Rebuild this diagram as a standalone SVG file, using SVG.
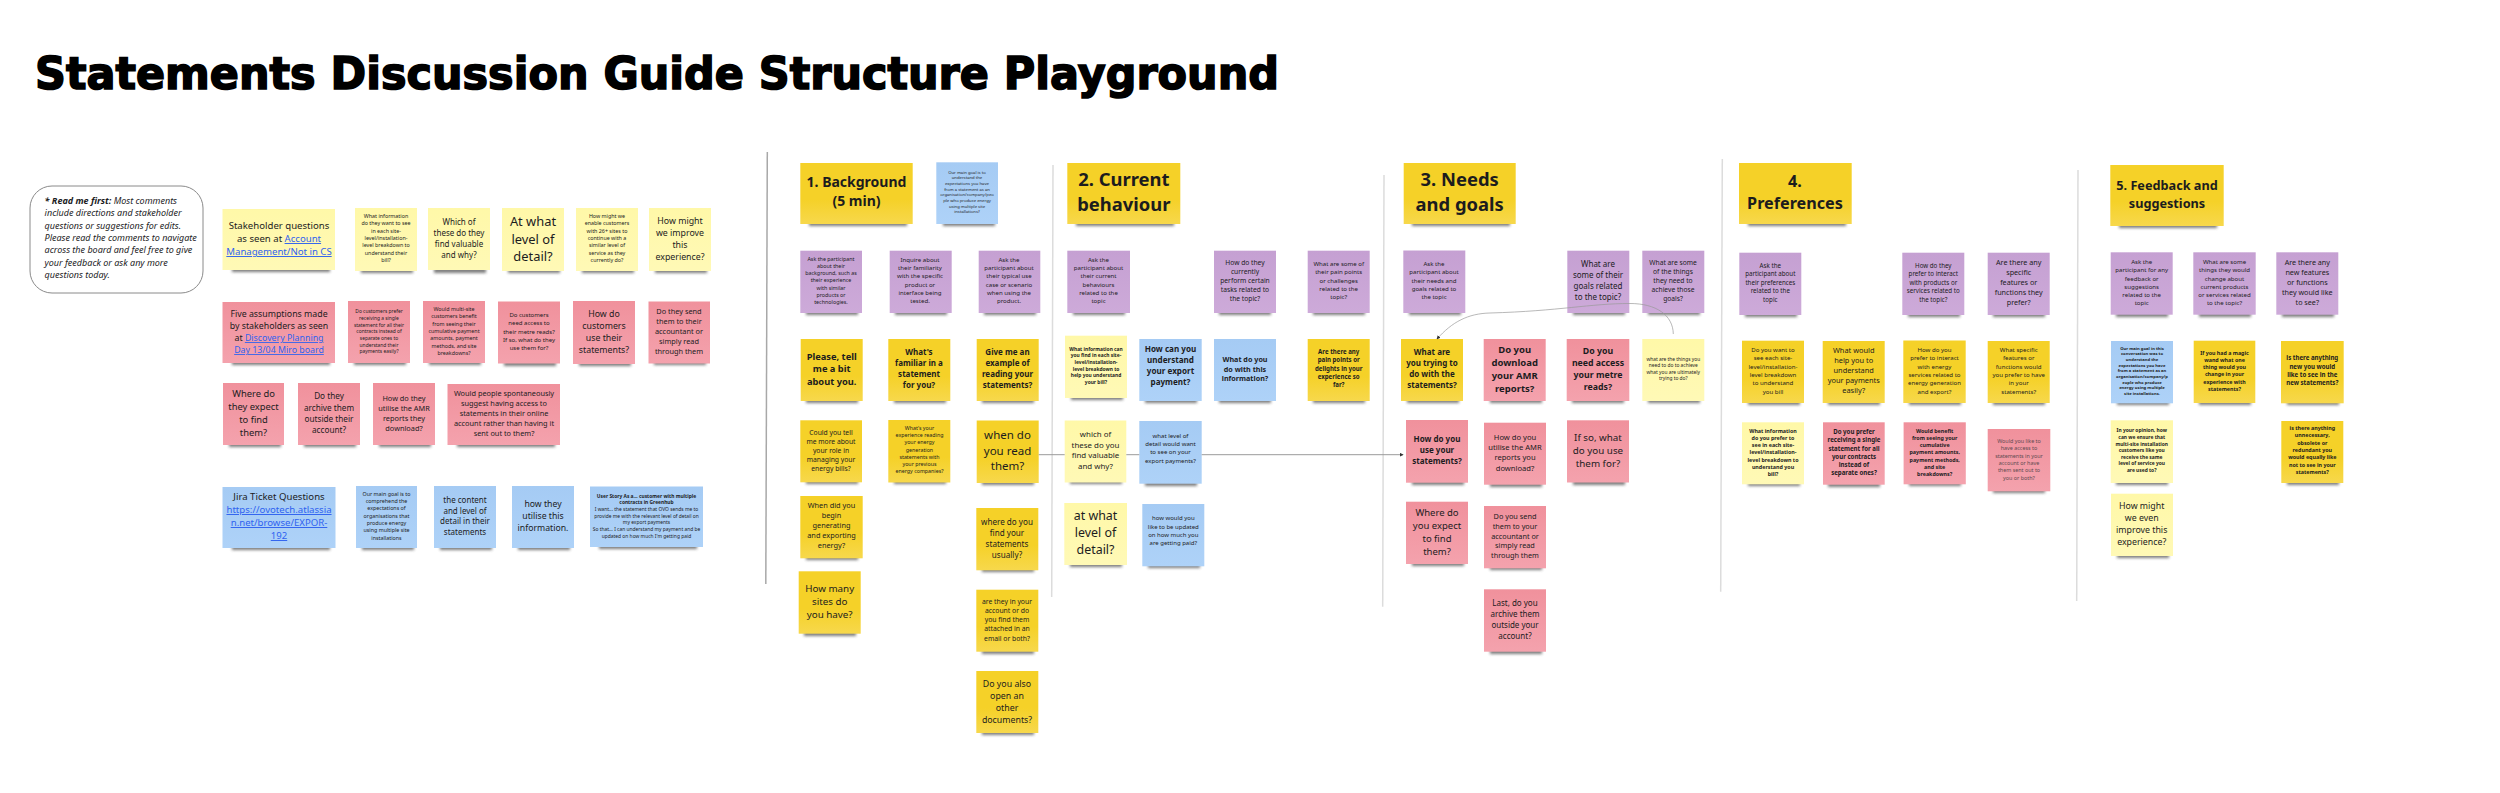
<svg xmlns="http://www.w3.org/2000/svg" width="2500" height="793" viewBox="0 0 2500 793">
<style>
text{font-family:"Noto Sans","Open Sans","Liberation Sans",sans-serif;fill:#1c1c1e;text-anchor:middle}
.b{font-weight:700}
.title{font-family:"DejaVu Sans",sans-serif;font-weight:700;font-size:44px;text-anchor:start;fill:#000;stroke:#000;stroke-width:1.6px}
.sh{fill:#4a4a4a;opacity:.72;filter:url(#blur)}
.y .bg{fill:url(#gy)}.l .bg{fill:url(#gl)}.r .bg{fill:url(#gr)}.p .bg{fill:url(#gp)}.u .bg{fill:url(#gu)}
.lk{fill:#2f62f0;text-decoration:underline}
.div{fill:none;stroke-linecap:butt}
.conn{fill:none;stroke:#9a9a9a}
.pale{fill:#5f4a50}
</style>
<defs>
<filter id="blur" x="-10%" y="-150%" width="120%" height="400%"><feGaussianBlur stdDeviation="1.6"/></filter>
<linearGradient id="gy" x1="0" y1="0" x2="0" y2="1"><stop offset="0" stop-color="#F5D128"/><stop offset=".6" stop-color="#F5D128"/><stop offset="1" stop-color="#F7D84C"/></linearGradient>
<linearGradient id="gl" x1="0" y1="0" x2="0" y2="1"><stop offset="0" stop-color="#FFF8A8"/><stop offset="1" stop-color="#FFF9B6"/></linearGradient>
<linearGradient id="gr" x1="0" y1="0" x2="0" y2="1"><stop offset="0" stop-color="#F0919C"/><stop offset="1" stop-color="#F4A2AD"/></linearGradient>
<linearGradient id="gp" x1="0" y1="0" x2="0" y2="1"><stop offset="0" stop-color="#C5A0D2"/><stop offset="1" stop-color="#CDAAD9"/></linearGradient>
<linearGradient id="gu" x1="0" y1="0" x2="0" y2="1"><stop offset="0" stop-color="#A5CBF4"/><stop offset="1" stop-color="#AED2F8"/></linearGradient>
<marker id="ah" viewBox="0 0 6 6" refX="5" refY="3" markerWidth="4" markerHeight="4" markerUnits="userSpaceOnUse" orient="auto"><path d="M0 0L6 3L0 6z" fill="#333"/></marker>
</defs>
<text class="title" x="35" y="89" textLength="1244" lengthAdjust="spacingAndGlyphs">Statements Discussion Guide Structure Playground</text>
<g id="dividers" class="div">
<path d="M767.3 152L765.8 584" stroke="#a8a8a8" stroke-width="1.5"/>
<path d="M1053 165L1051.7 597" stroke="#dcdcdc" stroke-width="1.5"/>
<path d="M1384 175L1382.7 606.7" stroke="#dcdcdc" stroke-width="1.5"/>
<path d="M1722.3 159L1720.7 591.7" stroke="#dcdcdc" stroke-width="1.5"/>
<path d="M2078 170L2076.7 601" stroke="#dcdcdc" stroke-width="1.5"/>
</g>
<g id="readme"><rect x="30" y="186" width="173" height="107" rx="22" fill="#fff" stroke="#8a8a8a" stroke-width="1"/>
<text font-size="9" font-style="italic" y="204" style="text-anchor:start"><tspan x="44.6"><tspan class="b">* Read me first:</tspan> Most comments</tspan><tspan x="44.6" dy="12.3">include directions and stakeholder</tspan><tspan x="44.6" dy="12.3">questions or suggestions for edits.</tspan><tspan x="44.6" dy="12.3">Please read the comments to navigate</tspan><tspan x="44.6" dy="12.3">across the board and feel free to give</tspan><tspan x="44.6" dy="12.3">your feedback or ask any more</tspan><tspan x="44.6" dy="12.3">questions today.</tspan></text></g>

<g id="s1" class="note l"><rect class="sh" x="232" y="267" width="98" height="5"/><rect class="bg" x="222.5" y="209" width="112.5" height="61"/><text font-size="9.6" y="229"><tspan x="279">Stakeholder questions</tspan><tspan x="279" dy="13">as seen at <tspan class="lk">Account</tspan></tspan><tspan x="279" dy="13" class="lk">Management/Not in CS</tspan></text></g>
<g id="s2" class="note l"><rect class="sh" x="361" y="268" width="52" height="5"/><rect class="bg" x="355" y="208" width="62" height="63"/><text font-size="5.35" y="218"><tspan x="386">What information</tspan><tspan x="386" dy="7.3">do they want to see</tspan><tspan x="386" dy="7.3">in each site-</tspan><tspan x="386" dy="7.3">level/installation-</tspan><tspan x="386" dy="7.3">level breakdown to</tspan><tspan x="386" dy="7.3">understand their</tspan><tspan x="386" dy="7.3">bill?</tspan></text></g>
<g id="s3" class="note l"><rect class="sh" x="434" y="268" width="52" height="5"/><rect class="bg" x="428" y="208" width="62" height="62"/><text font-size="8" y="225"><tspan x="459">Which of</tspan><tspan x="459" dy="10.9">these do they</tspan><tspan x="459" dy="10.9">find valuable</tspan><tspan x="459" dy="10.9">and why?</tspan></text></g>
<g id="s4" class="note l"><rect class="sh" x="508" y="268" width="52" height="5"/><rect class="bg" x="502" y="208" width="62" height="63"/><text font-size="12.9" y="226"><tspan x="533">At what</tspan><tspan x="533" dy="17.5">level of</tspan><tspan x="533" dy="17.5">detail?</tspan></text></g>
<g id="s5" class="note l"><rect class="sh" x="582" y="268" width="52" height="5"/><rect class="bg" x="576" y="208" width="62" height="63"/><text font-size="5.35" y="218"><tspan x="607">How might we</tspan><tspan x="607" dy="7.3">enable customers</tspan><tspan x="607" dy="7.3">with 26+ sites to</tspan><tspan x="607" dy="7.3">continue with a</tspan><tspan x="607" dy="7.3">similar level of</tspan><tspan x="607" dy="7.3">service as they</tspan><tspan x="607" dy="7.3">currently do?</tspan></text></g>
<g id="s6" class="note l"><rect class="sh" x="655" y="268" width="52" height="5"/><rect class="bg" x="649" y="208" width="62" height="63"/><text font-size="8.8" y="223.6"><tspan x="680">How might</tspan><tspan x="680" dy="12">we improve</tspan><tspan x="680" dy="12">this</tspan><tspan x="680" dy="12">experience?</tspan></text></g>

<g id="a1" class="note r"><rect class="sh" x="232" y="360" width="98" height="5"/><rect class="bg" x="222.5" y="302" width="112.5" height="61"/><text font-size="8.8" y="317"><tspan x="279">Five assumptions made</tspan><tspan x="279" dy="12">by stakeholders as seen</tspan><tspan x="279" dy="12">at <tspan class="lk">Discovery Planning</tspan></tspan><tspan x="279" dy="12" class="lk">Day 13/04 Miro board</tspan></text></g>
<g id="a2" class="note r"><rect class="sh" x="354" y="360" width="52" height="5"/><rect class="bg" x="348" y="301" width="62" height="62"/><text font-size="4.9" y="313.3"><tspan x="379">Do customers prefer</tspan><tspan x="379" dy="6.67">receiving a single</tspan><tspan x="379" dy="6.67">statement for all their</tspan><tspan x="379" dy="6.67">contracts instead of</tspan><tspan x="379" dy="6.67">separate ones to</tspan><tspan x="379" dy="6.67">understand their</tspan><tspan x="379" dy="6.67">payments easily?</tspan></text></g>
<g id="a3" class="note r"><rect class="sh" x="429" y="360" width="52" height="5"/><rect class="bg" x="423" y="301" width="62" height="62"/><text font-size="5.35" y="311"><tspan x="454">Would multi-site</tspan><tspan x="454" dy="7.3">customers benefit</tspan><tspan x="454" dy="7.3">from seeing their</tspan><tspan x="454" dy="7.3">cumulative payment</tspan><tspan x="454" dy="7.3">amounts, payment</tspan><tspan x="454" dy="7.3">methods, and site</tspan><tspan x="454" dy="7.3">breakdowns?</tspan></text></g>
<g id="a4" class="note r"><rect class="sh" x="504" y="361" width="52" height="5"/><rect class="bg" x="498" y="301.5" width="62" height="62"/><text font-size="6" y="317"><tspan x="529">Do customers</tspan><tspan x="529" dy="8.25">need access to</tspan><tspan x="529" dy="8.25">their metre reads?</tspan><tspan x="529" dy="8.25">If so, what do they</tspan><tspan x="529" dy="8.25">use them for?</tspan></text></g>
<g id="a5" class="note r"><rect class="sh" x="579" y="361" width="52" height="5"/><rect class="bg" x="573" y="301" width="62" height="63"/><text font-size="8.8" y="317"><tspan x="604">How do</tspan><tspan x="604" dy="12">customers</tspan><tspan x="604" dy="12">use their</tspan><tspan x="604" dy="12">statements?</tspan></text></g>
<g id="a6" class="note r"><rect class="sh" x="654" y="360" width="52" height="5"/><rect class="bg" x="648.5" y="301.5" width="61.5" height="62"/><text font-size="7.35" y="314"><tspan x="679">Do they send</tspan><tspan x="679" dy="10">them to their</tspan><tspan x="679" dy="10">accountant or</tspan><tspan x="679" dy="10">simply read</tspan><tspan x="679" dy="10">through them</tspan></text></g>
<g id="a7" class="note r"><rect class="sh" x="229" y="442" width="52" height="5"/><rect class="bg" x="223" y="383" width="61" height="62"/><text font-size="9.4" y="397.4"><tspan x="253.5">Where do</tspan><tspan x="253.5" dy="12.8">they expect</tspan><tspan x="253.5" dy="12.8">to find</tspan><tspan x="253.5" dy="12.8">them?</tspan></text></g>
<g id="a8" class="note r"><rect class="sh" x="304" y="442" width="52" height="5"/><rect class="bg" x="298" y="383" width="62" height="62"/><text font-size="8.2" y="399.4"><tspan x="329">Do they</tspan><tspan x="329" dy="11.1">archive them</tspan><tspan x="329" dy="11.1">outside their</tspan><tspan x="329" dy="11.1">account?</tspan></text></g>
<g id="a9" class="note r"><rect class="sh" x="379" y="442" width="52" height="5"/><rect class="bg" x="373" y="383" width="62" height="62"/><text font-size="7.35" y="400.7"><tspan x="404">How do they</tspan><tspan x="404" dy="10">utilise the AMR</tspan><tspan x="404" dy="10">reports they</tspan><tspan x="404" dy="10">download?</tspan></text></g>
<g id="a10" class="note r"><rect class="sh" x="457" y="442" width="98" height="5"/><rect class="bg" x="447.5" y="384" width="112.5" height="61"/><text font-size="7.35" y="395.7"><tspan x="504">Would people spontaneously</tspan><tspan x="504" dy="10">suggest having access to</tspan><tspan x="504" dy="10">statements in their online</tspan><tspan x="504" dy="10">account rather than having it</tspan><tspan x="504" dy="10">sent out to them?</tspan></text></g>

<g id="j1" class="note u"><rect class="sh" x="232" y="545" width="98" height="5"/><rect class="bg" x="222.5" y="487" width="113" height="61"/><text font-size="9.6" y="500"><tspan x="279">Jira Ticket Questions</tspan><tspan x="279" dy="13" class="lk">https://ovotech.atlassia</tspan><tspan x="279" dy="13" class="lk">n.net/browse/EXPOR-</tspan><tspan x="279" dy="13" class="lk">192</tspan></text></g>
<g id="j2" class="note u"><rect class="sh" x="362" y="545" width="52" height="5"/><rect class="bg" x="356" y="486" width="61" height="62"/><text font-size="5.35" y="495.8"><tspan x="386.5">Our main goal is to</tspan><tspan x="386.5" dy="7.3">comprehend the</tspan><tspan x="386.5" dy="7.3">expectations of</tspan><tspan x="386.5" dy="7.3">organisations that</tspan><tspan x="386.5" dy="7.3">produce energy</tspan><tspan x="386.5" dy="7.3">using multiple site</tspan><tspan x="386.5" dy="7.3">installations</tspan></text></g>
<g id="j3" class="note u"><rect class="sh" x="440" y="545" width="52" height="5"/><rect class="bg" x="434" y="486" width="62" height="62"/><text font-size="8" y="502.6"><tspan x="465">the content</tspan><tspan x="465" dy="10.9">and level of</tspan><tspan x="465" dy="10.9">detail in their</tspan><tspan x="465" dy="10.9">statements</tspan></text></g>
<g id="j4" class="note u"><rect class="sh" x="518" y="545" width="52" height="5"/><rect class="bg" x="512" y="486" width="62" height="62"/><text font-size="8.7" y="507.2"><tspan x="543">how they</tspan><tspan x="543" dy="11.8">utilise this</tspan><tspan x="543" dy="11.8">information.</tspan></text></g>
<g id="j5" class="note u"><rect class="sh" x="599" y="544" width="98" height="5"/><rect class="bg" x="590" y="486.5" width="113" height="60.5"/><text font-size="4.9" y="497.6"><tspan x="646.5" class="b">User Story As a... customer with multiple</tspan><tspan x="646.5" dy="6.67" class="b">contracts in Greenhub</tspan><tspan x="646.5" dy="6.67">I want... the statement that  OVO sends me to</tspan><tspan x="646.5" dy="6.67">provide me with the relevant level of detail on</tspan><tspan x="646.5" dy="6.67">my export payments</tspan><tspan x="646.5" dy="6.67">So that... I can understand my payment and be</tspan><tspan x="646.5" dy="6.67">updated on how much I'm getting paid</tspan></text></g>

<g id="h1" class="note y"><rect class="sh" x="809" y="221" width="98" height="5"/><rect class="bg" x="800.3" y="163" width="112.4" height="61"/><text class="b" font-size="14" y="187.3"><tspan x="856.5">1. Background</tspan><tspan x="856.5" dy="19">(5 min)</tspan></text></g>
<g id="b0" class="note u"><rect class="sh" x="943" y="221" width="52" height="5"/><rect class="bg" x="936.3" y="162.3" width="61.7" height="61.7"/><text font-size="4.2" y="173.7"><tspan x="967">Our main goal is to</tspan><tspan x="967" dy="5.67">understand the</tspan><tspan x="967" dy="5.67">expectations you have</tspan><tspan x="967" dy="5.67">from a statement as an</tspan><tspan x="967" dy="5.67">organisation/company/peo</tspan><tspan x="967" dy="5.67">ple who produce energy</tspan><tspan x="967" dy="5.67">using multiple site</tspan><tspan x="967" dy="5.67">installations?</tspan></text></g>
<g id="p1" class="note p"><rect class="sh" x="806" y="310" width="52" height="5"/><rect class="bg" x="800.3" y="250.7" width="61.7" height="62.3"/><text font-size="5.35" y="260.5"><tspan x="831">Ask the participant</tspan><tspan x="831" dy="7.3">about their</tspan><tspan x="831" dy="7.3">background, such as</tspan><tspan x="831" dy="7.3">their experience</tspan><tspan x="831" dy="7.3">with similar</tspan><tspan x="831" dy="7.3">products or</tspan><tspan x="831" dy="7.3">technologies.</tspan></text></g>
<g id="p2" class="note p"><rect class="sh" x="895" y="310" width="52" height="5"/><rect class="bg" x="889.7" y="250.7" width="62" height="62.3"/><text font-size="6.1" y="261.7"><tspan x="920">Inquire about</tspan><tspan x="920" dy="8.33">their familiarity</tspan><tspan x="920" dy="8.33">with the specific</tspan><tspan x="920" dy="8.33">product or</tspan><tspan x="920" dy="8.33">interface being</tspan><tspan x="920" dy="8.33">tested.</tspan></text></g>
<g id="p3" class="note p"><rect class="sh" x="984" y="310" width="52" height="5"/><rect class="bg" x="978.7" y="250.7" width="61.6" height="62.3"/><text font-size="6.1" y="261.7"><tspan x="1009">Ask the</tspan><tspan x="1009" dy="8.33">participant about</tspan><tspan x="1009" dy="8.33">their typical use</tspan><tspan x="1009" dy="8.33">case or scenario</tspan><tspan x="1009" dy="8.33">when using the</tspan><tspan x="1009" dy="8.33">product.</tspan></text></g>

<g id="y1" class="note y"><rect class="sh" x="806" y="398" width="52" height="5"/><rect class="bg" x="800.7" y="339" width="62" height="62"/><text class="b" font-size="9.3" y="359.8"><tspan x="831.7">Please, tell</tspan><tspan x="831.7" dy="12.67">me a bit</tspan><tspan x="831.7" dy="12.67">about you.</tspan></text></g>
<g id="y2" class="note y"><rect class="sh" x="894" y="398" width="52" height="5"/><rect class="bg" x="888.3" y="339" width="62" height="62"/><text class="b" font-size="8" y="355.3"><tspan x="919">What's</tspan><tspan x="919" dy="10.8">familiar in a</tspan><tspan x="919" dy="10.8">statement</tspan><tspan x="919" dy="10.8">for you?</tspan></text></g>
<g id="y3" class="note y"><rect class="sh" x="982" y="398" width="52" height="5"/><rect class="bg" x="976.7" y="339" width="62" height="62"/><text class="b" font-size="8" y="355.3"><tspan x="1007.5">Give me an</tspan><tspan x="1007.5" dy="10.8">example of</tspan><tspan x="1007.5" dy="10.8">reading your</tspan><tspan x="1007.5" dy="10.8">statements?</tspan></text></g>
<g id="y4" class="note y"><rect class="sh" x="806" y="479" width="52" height="5"/><rect class="bg" x="800.3" y="420.3" width="61.7" height="62"/><text font-size="6.75" y="434.5"><tspan x="831">Could you tell</tspan><tspan x="831" dy="9.2">me more about</tspan><tspan x="831" dy="9.2">your role in</tspan><tspan x="831" dy="9.2">managing your</tspan><tspan x="831" dy="9.2">energy bills?</tspan></text></g>
<g id="y5" class="note y"><rect class="sh" x="894" y="479" width="52" height="5"/><rect class="bg" x="888.3" y="420" width="62" height="62.5"/><text font-size="5.3" y="430"><tspan x="919.5">What's your</tspan><tspan x="919.5" dy="7.2">experience reading</tspan><tspan x="919.5" dy="7.2">your energy</tspan><tspan x="919.5" dy="7.2">generation</tspan><tspan x="919.5" dy="7.2">statements with</tspan><tspan x="919.5" dy="7.2">your previous</tspan><tspan x="919.5" dy="7.2">energy companies?</tspan></text></g>
<g id="y6" class="note y"><rect class="sh" x="982" y="480" width="52" height="5"/><rect class="bg" x="976.7" y="420.5" width="62" height="62.5"/><text font-size="11.5" y="438.8"><tspan x="1007.5">when do</tspan><tspan x="1007.5" dy="15.7">you read</tspan><tspan x="1007.5" dy="15.7">them?</tspan></text></g>
<g id="y7" class="note y"><rect class="sh" x="806" y="555" width="52" height="5"/><rect class="bg" x="800.3" y="496" width="62.4" height="62.3"/><text font-size="7.35" y="508.4"><tspan x="831.5">When did you</tspan><tspan x="831.5" dy="10">begin</tspan><tspan x="831.5" dy="10">generating</tspan><tspan x="831.5" dy="10">and exporting</tspan><tspan x="831.5" dy="10">energy?</tspan></text></g>
<g id="y8" class="note y"><rect class="sh" x="804" y="631" width="52" height="5"/><rect class="bg" x="798.7" y="571.3" width="62" height="62.4"/><text font-size="9.8" y="591.5"><tspan x="829.7">How many</tspan><tspan x="829.7" dy="13.3">sites do</tspan><tspan x="829.7" dy="13.3">you have?</tspan></text></g>
<g id="y9" class="note y"><rect class="sh" x="982" y="567" width="52" height="5"/><rect class="bg" x="976.3" y="508" width="62" height="62.3"/><text font-size="8.1" y="524.7"><tspan x="1007">where do you</tspan><tspan x="1007" dy="11">find your</tspan><tspan x="1007" dy="11">statements</tspan><tspan x="1007" dy="11">usually?</tspan></text></g>
<g id="y10" class="note y"><rect class="sh" x="982" y="649" width="52" height="5"/><rect class="bg" x="976.3" y="589.7" width="62" height="62"/><text font-size="6.8" y="603.5"><tspan x="1007">are they in your</tspan><tspan x="1007" dy="9.25">account or do</tspan><tspan x="1007" dy="9.25">you find them</tspan><tspan x="1007" dy="9.25">attached in an</tspan><tspan x="1007" dy="9.25">email or both?</tspan></text></g>
<g id="y11" class="note y"><rect class="sh" x="982" y="730" width="52" height="5"/><rect class="bg" x="976.3" y="671" width="62" height="62"/><text font-size="8.8" y="686.6"><tspan x="1007">Do you also</tspan><tspan x="1007" dy="12">open an</tspan><tspan x="1007" dy="12">other</tspan><tspan x="1007" dy="12">documents?</tspan></text></g>

<g id="h2" class="note y"><rect class="sh" x="1076" y="221" width="98" height="5"/><rect class="bg" x="1067.3" y="163" width="113" height="61"/><text class="b" font-size="18.4" y="186"><tspan x="1123.8">2. Current</tspan><tspan x="1123.8" dy="25">behaviour</tspan></text></g>
<g id="p4" class="note p"><rect class="sh" x="1073" y="310" width="52" height="5"/><rect class="bg" x="1067.3" y="250.7" width="62.7" height="62.3"/><text font-size="6.1" y="261.7"><tspan x="1098.5">Ask the</tspan><tspan x="1098.5" dy="8.33">participant about</tspan><tspan x="1098.5" dy="8.33">their current</tspan><tspan x="1098.5" dy="8.33">behaviours</tspan><tspan x="1098.5" dy="8.33">related to the</tspan><tspan x="1098.5" dy="8.33">topic</tspan></text></g>
<g id="p5" class="note p"><rect class="sh" x="1219" y="310" width="52" height="5"/><rect class="bg" x="1214" y="250.7" width="62" height="62.3"/><text font-size="6.7" y="264.5"><tspan x="1245">How do they</tspan><tspan x="1245" dy="9.17">currently</tspan><tspan x="1245" dy="9.17">perform certain</tspan><tspan x="1245" dy="9.17">tasks related to</tspan><tspan x="1245" dy="9.17">the topic?</tspan></text></g>
<g id="p6" class="note p"><rect class="sh" x="1313" y="310" width="52" height="5"/><rect class="bg" x="1307.7" y="250.7" width="62" height="62.3"/><text font-size="6.1" y="266"><tspan x="1338.7">What are some of</tspan><tspan x="1338.7" dy="8.25">their pain points</tspan><tspan x="1338.7" dy="8.25">or challenges</tspan><tspan x="1338.7" dy="8.25">related to the</tspan><tspan x="1338.7" dy="8.25">topic?</tspan></text></g>
<g id="c1" class="note l"><rect class="sh" x="1071" y="395" width="52" height="5"/><rect class="bg" x="1065" y="335.7" width="62" height="62.3"/><text class="b" font-size="4.9" y="350.6"><tspan x="1096">What information can</tspan><tspan x="1096" dy="6.67">you find in each site-</tspan><tspan x="1096" dy="6.67">level/installation-</tspan><tspan x="1096" dy="6.67">level breakdown to</tspan><tspan x="1096" dy="6.67">help you understand</tspan><tspan x="1096" dy="6.67">your bill?</tspan></text></g>
<g id="c2" class="note u"><rect class="sh" x="1145" y="398" width="52" height="5"/><rect class="bg" x="1139.3" y="339" width="62.4" height="62"/><text class="b" font-size="8.1" y="352"><tspan x="1170.5">How can you</tspan><tspan x="1170.5" dy="11">understand</tspan><tspan x="1170.5" dy="11">your export</tspan><tspan x="1170.5" dy="11">payment?</tspan></text></g>
<g id="c3" class="note u"><rect class="sh" x="1219" y="398" width="52" height="5"/><rect class="bg" x="1214" y="339" width="62" height="62"/><text class="b" font-size="7.2" y="361.7"><tspan x="1245">What do you</tspan><tspan x="1245" dy="9.83">do with this</tspan><tspan x="1245" dy="9.83">information?</tspan></text></g>
<g id="c4" class="note y"><rect class="sh" x="1313" y="398" width="52" height="5"/><rect class="bg" x="1307.7" y="339" width="62" height="62"/><text class="b" font-size="6.1" y="354"><tspan x="1338.7">Are there any</tspan><tspan x="1338.7" dy="8.25">pain points or</tspan><tspan x="1338.7" dy="8.25">delights in your</tspan><tspan x="1338.7" dy="8.25">experience so</tspan><tspan x="1338.7" dy="8.25">far?</tspan></text></g>
<g id="c5" class="note l"><rect class="sh" x="1070" y="479" width="52" height="5"/><rect class="bg" x="1064.7" y="420.5" width="61.6" height="62"/><text font-size="7.9" y="437"><tspan x="1095.5">which of</tspan><tspan x="1095.5" dy="10.7">these do you</tspan><tspan x="1095.5" dy="10.7">find valuable</tspan><tspan x="1095.5" dy="10.7">and why?</tspan></text></g>
<g id="c6" class="note u"><rect class="sh" x="1145" y="481" width="52" height="5"/><rect class="bg" x="1139.3" y="421" width="62.4" height="62.7"/><text font-size="6.05" y="438"><tspan x="1170.5">what level of</tspan><tspan x="1170.5" dy="8.2">detail would want</tspan><tspan x="1170.5" dy="8.2">to see on your</tspan><tspan x="1170.5" dy="8.2">export payments?</tspan></text></g>
<g id="c7" class="note l"><rect class="sh" x="1070" y="562" width="52" height="5"/><rect class="bg" x="1064.3" y="503" width="62.7" height="62"/><text font-size="12.4" y="520"><tspan x="1095.5">at what</tspan><tspan x="1095.5" dy="16.8">level of</tspan><tspan x="1095.5" dy="16.8">detail?</tspan></text></g>
<g id="c8" class="note u"><rect class="sh" x="1148" y="563" width="52" height="5"/><rect class="bg" x="1142.3" y="504" width="62" height="62.3"/><text font-size="6" y="520.3"><tspan x="1173.3">how would you</tspan><tspan x="1173.3" dy="8.2">like to be updated</tspan><tspan x="1173.3" dy="8.2">on how much you</tspan><tspan x="1173.3" dy="8.2">are getting paid?</tspan></text></g>

<g id="h3" class="note y"><rect class="sh" x="1412" y="221" width="98" height="5"/><rect class="bg" x="1403.7" y="163" width="112" height="61"/><text class="b" font-size="18.4" y="186"><tspan x="1459.7">3. Needs</tspan><tspan x="1459.7" dy="25">and goals</tspan></text></g>
<g id="p7" class="note p"><rect class="sh" x="1409" y="310" width="52" height="5"/><rect class="bg" x="1403.3" y="250.5" width="62" height="62.5"/><text font-size="6.1" y="266"><tspan x="1434">Ask the</tspan><tspan x="1434" dy="8.25">participant about</tspan><tspan x="1434" dy="8.25">their needs and</tspan><tspan x="1434" dy="8.25">goals related to</tspan><tspan x="1434" dy="8.25">the topic</tspan></text></g>
<g id="p8" class="note p"><rect class="sh" x="1573" y="310" width="52" height="5"/><rect class="bg" x="1567.3" y="250.7" width="62" height="62.3"/><text font-size="8" y="267.3"><tspan x="1598">What are</tspan><tspan x="1598" dy="10.8">some of their</tspan><tspan x="1598" dy="10.8">goals related</tspan><tspan x="1598" dy="10.8">to the topic?</tspan></text></g>
<g id="p9" class="note p"><rect class="sh" x="1648" y="310" width="52" height="5"/><rect class="bg" x="1642.3" y="250.7" width="62" height="62.3"/><text font-size="6.7" y="264.5"><tspan x="1673">What are some</tspan><tspan x="1673" dy="9.17">of the things</tspan><tspan x="1673" dy="9.17">they need to</tspan><tspan x="1673" dy="9.17">achieve those</tspan><tspan x="1673" dy="9.17">goals?</tspan></text></g>
<g id="g1" class="note y"><rect class="sh" x="1407" y="398" width="52" height="5"/><rect class="bg" x="1401" y="339" width="62" height="62"/><text class="b" font-size="8" y="355.3"><tspan x="1432">What are</tspan><tspan x="1432" dy="10.8">you trying to</tspan><tspan x="1432" dy="10.8">do with the</tspan><tspan x="1432" dy="10.8">statements?</tspan></text></g>
<g id="g2" class="note r"><rect class="sh" x="1490" y="398" width="52" height="5"/><rect class="bg" x="1483.7" y="339" width="62" height="62"/><text class="b" font-size="9.5" y="353.4"><tspan x="1514.7">Do you</tspan><tspan x="1514.7" dy="12.9">download</tspan><tspan x="1514.7" dy="12.9">your AMR</tspan><tspan x="1514.7" dy="12.9">reports?</tspan></text></g>
<g id="g3" class="note r"><rect class="sh" x="1572" y="398" width="52" height="5"/><rect class="bg" x="1566.7" y="339" width="62.6" height="62"/><text class="b" font-size="8.75" y="354.2"><tspan x="1598">Do you</tspan><tspan x="1598" dy="11.9">need access</tspan><tspan x="1598" dy="11.9">your metre</tspan><tspan x="1598" dy="11.9">reads?</tspan></text></g>
<g id="g4" class="note l"><rect class="sh" x="1648" y="398" width="52" height="5"/><rect class="bg" x="1642.3" y="339" width="62" height="62"/><text font-size="4.85" y="360.6"><tspan x="1673.3">what are the things you</tspan><tspan x="1673.3" dy="6.6">need to do to achieve</tspan><tspan x="1673.3" dy="6.6">what you are ultimately</tspan><tspan x="1673.3" dy="6.6">trying to do?</tspan></text></g>
<g id="g5" class="note r"><rect class="sh" x="1412" y="480" width="52" height="5"/><rect class="bg" x="1406" y="420" width="62" height="62.7"/><text class="b" font-size="8" y="442"><tspan x="1437">How do you</tspan><tspan x="1437" dy="10.8">use your</tspan><tspan x="1437" dy="10.8">statements?</tspan></text></g>
<g id="g6" class="note r"><rect class="sh" x="1490" y="482" width="52" height="5"/><rect class="bg" x="1484" y="422.7" width="62" height="62"/><text font-size="7.6" y="439.8"><tspan x="1515">How do you</tspan><tspan x="1515" dy="10.3">utilise the AMR</tspan><tspan x="1515" dy="10.3">reports you</tspan><tspan x="1515" dy="10.3">download?</tspan></text></g>
<g id="g7" class="note r"><rect class="sh" x="1573" y="480" width="52" height="5"/><rect class="bg" x="1567" y="420.3" width="62" height="62.2"/><text font-size="9.8" y="440.5"><tspan x="1598">If so, what</tspan><tspan x="1598" dy="13.3">do you use</tspan><tspan x="1598" dy="13.3">them for?</tspan></text></g>
<g id="g8" class="note r"><rect class="sh" x="1412" y="561" width="52" height="5"/><rect class="bg" x="1406" y="501.7" width="62" height="62.3"/><text font-size="9.5" y="516"><tspan x="1437">Where do</tspan><tspan x="1437" dy="12.9">you expect</tspan><tspan x="1437" dy="12.9">to find</tspan><tspan x="1437" dy="12.9">them?</tspan></text></g>
<g id="g9" class="note r"><rect class="sh" x="1490" y="565" width="52" height="5"/><rect class="bg" x="1484" y="506" width="62" height="62.3"/><text font-size="7.3" y="518.7"><tspan x="1515">Do you send</tspan><tspan x="1515" dy="9.9">them to your</tspan><tspan x="1515" dy="9.9">accountant or</tspan><tspan x="1515" dy="9.9">simply read</tspan><tspan x="1515" dy="9.9">through them</tspan></text></g>
<g id="g10" class="note r"><rect class="sh" x="1490" y="649" width="52" height="5"/><rect class="bg" x="1484" y="589.3" width="62" height="62.4"/><text font-size="8" y="606.3"><tspan x="1515">Last, do you</tspan><tspan x="1515" dy="10.8">archive them</tspan><tspan x="1515" dy="10.8">outside your</tspan><tspan x="1515" dy="10.8">account?</tspan></text></g>

<g id="h4" class="note y"><rect class="sh" x="1748" y="221" width="98" height="5"/><rect class="bg" x="1739" y="163" width="112.7" height="61"/><text class="b" font-size="16.2" y="187"><tspan x="1795">4.</tspan><tspan x="1795" dy="22">Preferences</tspan></text></g>
<g id="f1" class="note p"><rect class="sh" x="1745" y="312" width="52" height="5"/><rect class="bg" x="1739.3" y="252.7" width="62" height="62.3"/><text font-size="6.2" y="268"><tspan x="1770.3">Ask the</tspan><tspan x="1770.3" dy="8.4">participant about</tspan><tspan x="1770.3" dy="8.4">their preferences</tspan><tspan x="1770.3" dy="8.4">related to the</tspan><tspan x="1770.3" dy="8.4">topic</tspan></text></g>
<g id="f2" class="note p"><rect class="sh" x="1908" y="312" width="52" height="5"/><rect class="bg" x="1902.3" y="252.7" width="62" height="62.3"/><text font-size="6.2" y="268"><tspan x="1933.3">How do they</tspan><tspan x="1933.3" dy="8.4">prefer to interact</tspan><tspan x="1933.3" dy="8.4">with products or</tspan><tspan x="1933.3" dy="8.4">services related to</tspan><tspan x="1933.3" dy="8.4">the topic?</tspan></text></g>
<g id="f3" class="note p"><rect class="sh" x="1993" y="312" width="52" height="5"/><rect class="bg" x="1987.7" y="252.7" width="62" height="62.3"/><text font-size="7.2" y="265.4"><tspan x="2018.7">Are there any</tspan><tspan x="2018.7" dy="9.8">specific</tspan><tspan x="2018.7" dy="9.8">features or</tspan><tspan x="2018.7" dy="9.8">functions they</tspan><tspan x="2018.7" dy="9.8">prefer?</tspan></text></g>
<g id="f4" class="note y"><rect class="sh" x="1748" y="400" width="52" height="5"/><rect class="bg" x="1742" y="340.7" width="62" height="62.3"/><text font-size="6.1" y="352"><tspan x="1773">Do you want to</tspan><tspan x="1773" dy="8.33">see each site-</tspan><tspan x="1773" dy="8.33">level/installation-</tspan><tspan x="1773" dy="8.33">level breakdown</tspan><tspan x="1773" dy="8.33">to understand</tspan><tspan x="1773" dy="8.33">you bill</tspan></text></g>
<g id="f5" class="note y"><rect class="sh" x="1828" y="400" width="52" height="5"/><rect class="bg" x="1822.7" y="341" width="62" height="62"/><text font-size="7.4" y="353.4"><tspan x="1853.7">What would</tspan><tspan x="1853.7" dy="10">help you to</tspan><tspan x="1853.7" dy="10">understand</tspan><tspan x="1853.7" dy="10">your payments</tspan><tspan x="1853.7" dy="10">easily?</tspan></text></g>
<g id="f6" class="note y"><rect class="sh" x="1909" y="400" width="52" height="5"/><rect class="bg" x="1903.3" y="340.5" width="62.4" height="62.5"/><text font-size="6.1" y="352"><tspan x="1934.5">How do you</tspan><tspan x="1934.5" dy="8.33">prefer to interact</tspan><tspan x="1934.5" dy="8.33">with energy</tspan><tspan x="1934.5" dy="8.33">services related to</tspan><tspan x="1934.5" dy="8.33">energy generation</tspan><tspan x="1934.5" dy="8.33">and export?</tspan></text></g>
<g id="f7" class="note y"><rect class="sh" x="1993" y="400" width="52" height="5"/><rect class="bg" x="1987.7" y="341" width="62" height="62"/><text font-size="6.1" y="352"><tspan x="2018.7">What specific</tspan><tspan x="2018.7" dy="8.33">features or</tspan><tspan x="2018.7" dy="8.33">functions would</tspan><tspan x="2018.7" dy="8.33">you prefer to have</tspan><tspan x="2018.7" dy="8.33">in your</tspan><tspan x="2018.7" dy="8.33">statements?</tspan></text></g>
<g id="f8" class="note l"><rect class="sh" x="1748" y="481" width="52" height="5"/><rect class="bg" x="1742" y="422.3" width="62" height="62"/><text class="b" font-size="5.35" y="432.5"><tspan x="1773">What information</tspan><tspan x="1773" dy="7.3">do you prefer to</tspan><tspan x="1773" dy="7.3">see in each site-</tspan><tspan x="1773" dy="7.3">level/installation-</tspan><tspan x="1773" dy="7.3">level breakdown to</tspan><tspan x="1773" dy="7.3">understand you</tspan><tspan x="1773" dy="7.3">bill?</tspan></text></g>
<g id="f9" class="note r"><rect class="sh" x="1828" y="482" width="52" height="5"/><rect class="bg" x="1823" y="422.3" width="61.7" height="62.4"/><text class="b" font-size="6.1" y="434"><tspan x="1854">Do you prefer</tspan><tspan x="1854" dy="8.27">receiving a single</tspan><tspan x="1854" dy="8.27">statement for all</tspan><tspan x="1854" dy="8.27">your contracts</tspan><tspan x="1854" dy="8.27">instead of</tspan><tspan x="1854" dy="8.27">separate ones?</tspan></text></g>
<g id="f10" class="note r"><rect class="sh" x="1909" y="481" width="52" height="5"/><rect class="bg" x="1903.6" y="422.3" width="62.2" height="62"/><text class="b" font-size="5.35" y="432.5"><tspan x="1934.7">Would  benefit</tspan><tspan x="1934.7" dy="7.3">from seeing your</tspan><tspan x="1934.7" dy="7.3">cumulative</tspan><tspan x="1934.7" dy="7.3">payment amounts,</tspan><tspan x="1934.7" dy="7.3">payment methods,</tspan><tspan x="1934.7" dy="7.3">and site</tspan><tspan x="1934.7" dy="7.3">breakdowns?</tspan></text></g>
<g id="f11" class="note r"><rect class="sh" x="1993" y="488" width="52" height="5"/><rect class="bg" x="1987.7" y="429" width="62.6" height="62.3"/><text class="pale" font-size="5.4" y="443"><tspan x="2019">Would you like to</tspan><tspan x="2019" dy="7.33">have  access to</tspan><tspan x="2019" dy="7.33">statements in your</tspan><tspan x="2019" dy="7.33">account or have</tspan><tspan x="2019" dy="7.33">them sent out to</tspan><tspan x="2019" dy="7.33">you or both?</tspan></text></g>

<g id="h5" class="note y"><rect class="sh" x="2119" y="223" width="98" height="5"/><rect class="bg" x="2110.3" y="165" width="113.4" height="61"/><text class="b" font-size="12.7" y="190.2"><tspan x="2167">5. Feedback and</tspan><tspan x="2167" dy="17.3">suggestions</tspan></text></g>
<g id="k1" class="note p"><rect class="sh" x="2116" y="312" width="52" height="5"/><rect class="bg" x="2110.7" y="252.3" width="62" height="62.4"/><text font-size="6.1" y="264"><tspan x="2141.7">Ask the</tspan><tspan x="2141.7" dy="8.27">participant for any</tspan><tspan x="2141.7" dy="8.27">feedback or</tspan><tspan x="2141.7" dy="8.27">suggestions</tspan><tspan x="2141.7" dy="8.27">related to the</tspan><tspan x="2141.7" dy="8.27">topic</tspan></text></g>
<g id="k2" class="note p"><rect class="sh" x="2199" y="312" width="52" height="5"/><rect class="bg" x="2193.3" y="252.3" width="62.4" height="62.4"/><text font-size="6.1" y="264"><tspan x="2224.5">What are some</tspan><tspan x="2224.5" dy="8.27">things they would</tspan><tspan x="2224.5" dy="8.27">change about</tspan><tspan x="2224.5" dy="8.27">current products</tspan><tspan x="2224.5" dy="8.27">or services related</tspan><tspan x="2224.5" dy="8.27">to the topic?</tspan></text></g>
<g id="k3" class="note p"><rect class="sh" x="2282" y="312" width="52" height="5"/><rect class="bg" x="2276.3" y="252.3" width="62" height="62.4"/><text font-size="7.2" y="265.4"><tspan x="2307.3">Are there any</tspan><tspan x="2307.3" dy="9.83">new features</tspan><tspan x="2307.3" dy="9.83">or functions</tspan><tspan x="2307.3" dy="9.83">they would like</tspan><tspan x="2307.3" dy="9.83">to see?</tspan></text></g>
<g id="k4" class="note u"><rect class="sh" x="2117" y="400" width="52" height="5"/><rect class="bg" x="2111" y="341" width="62" height="62.3"/><text class="b" font-size="4.2" y="349.7"><tspan x="2142">Our main goal in this</tspan><tspan x="2142" dy="5.67">conversation was to</tspan><tspan x="2142" dy="5.67">understand the</tspan><tspan x="2142" dy="5.67">expectations you have</tspan><tspan x="2142" dy="5.67">from a statement as an</tspan><tspan x="2142" dy="5.67">organisation/company/p</tspan><tspan x="2142" dy="5.67">eople who produce</tspan><tspan x="2142" dy="5.67">energy using multiple</tspan><tspan x="2142" dy="5.67">site installations.</tspan></text></g>
<g id="k5" class="note y"><rect class="sh" x="2199" y="400" width="52" height="5"/><rect class="bg" x="2193.7" y="340.7" width="61.6" height="62.3"/><text class="b" font-size="5.3" y="354.8"><tspan x="2224.5">If you had a magic</tspan><tspan x="2224.5" dy="7.2">wand what one</tspan><tspan x="2224.5" dy="7.2">thing would you</tspan><tspan x="2224.5" dy="7.2">change in your</tspan><tspan x="2224.5" dy="7.2">experience with</tspan><tspan x="2224.5" dy="7.2">statements?</tspan></text></g>
<g id="k6" class="note y"><rect class="sh" x="2287" y="400" width="52" height="5"/><rect class="bg" x="2281" y="341" width="62.7" height="62.3"/><text class="b" font-size="6.1" y="360.3"><tspan x="2312.3">is there anything</tspan><tspan x="2312.3" dy="8.25">new you would</tspan><tspan x="2312.3" dy="8.25">like to see in the</tspan><tspan x="2312.3" dy="8.25">new statements?</tspan></text></g>
<g id="k7" class="note l"><rect class="sh" x="2116" y="480" width="52" height="5"/><rect class="bg" x="2110.7" y="420.3" width="62.3" height="62.7"/><text class="b" font-size="4.9" y="432.3"><tspan x="2141.7">In your opinion, how</tspan><tspan x="2141.7" dy="6.6">can we ensure that</tspan><tspan x="2141.7" dy="6.6">multi-site installation</tspan><tspan x="2141.7" dy="6.6">customers like you</tspan><tspan x="2141.7" dy="6.6">receive the same</tspan><tspan x="2141.7" dy="6.6">level of service you</tspan><tspan x="2141.7" dy="6.6">are used to?</tspan></text></g>
<g id="k8" class="note y"><rect class="sh" x="2287" y="480" width="52" height="5"/><rect class="bg" x="2281.3" y="421" width="62" height="62"/><text class="b" font-size="5.35" y="430"><tspan x="2312.3">is there anything</tspan><tspan x="2312.3" dy="7.3">unnecessary,</tspan><tspan x="2312.3" dy="7.3">obsolete or</tspan><tspan x="2312.3" dy="7.3">redundant you</tspan><tspan x="2312.3" dy="7.3">would equally like</tspan><tspan x="2312.3" dy="7.3">not to see in your</tspan><tspan x="2312.3" dy="7.3">statements?</tspan></text></g>
<g id="k9" class="note l"><rect class="sh" x="2117" y="553" width="52" height="5"/><rect class="bg" x="2111" y="493.7" width="62" height="62.3"/><text font-size="8.8" y="509"><tspan x="2141.7">How might</tspan><tspan x="2141.7" dy="12">we even</tspan><tspan x="2141.7" dy="12">improve this</tspan><tspan x="2141.7" dy="12">experience?</tspan></text></g>

<g id="connectors">
<path class="conn" stroke-width="1" d="M1038.7 454.7H1064.7M1126.3 454.7H1139.3M1201.7 454.7H1403" marker-end="url(#ah)"/>
<path class="conn" stroke-width=".7" d="M1673.3 334C1673 315 1656 303.5 1630 303.5C1590 303.5 1560 311 1490 313C1468 313.5 1452 322 1437 339" marker-end="url(#ah)"/>
</g>
</svg>
